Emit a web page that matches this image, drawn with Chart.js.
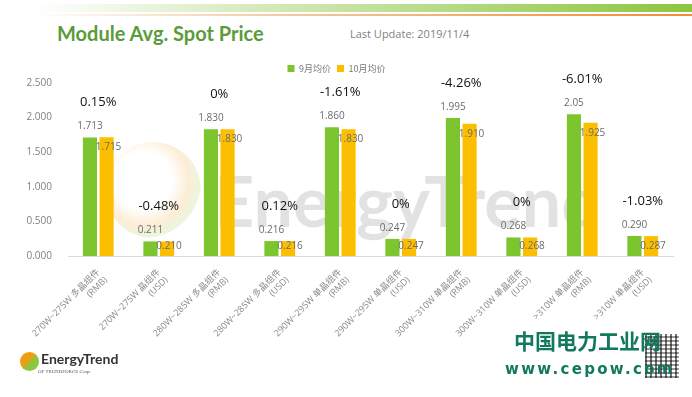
<!DOCTYPE html>
<html>
<head>
<meta charset="utf-8">
<script src="https://cdn.jsdelivr.net/npm/chart.js@4"></script>
<style>
  body { margin: 0; background: #fff; width: 692px; height: 397px; overflow: hidden; position: relative; font-family: "Open Sans", "Noto Sans CJK SC", sans-serif; }
  #band1 { position: absolute; left: 0; top: 4px; width: 692px; height: 8px; background: linear-gradient(to right, #fff 5%, #d8ebc0 35%, #8cc63f 100%); }
  #band2 { position: absolute; left: 30px; top: 14px; width: 662px; height: 2px; background: linear-gradient(to right, #fff, #f3c79a 40%, #ee8d3a 100%); }
  #title { position: absolute; left: 57px; top: 21px; font: bold 20px Lato, sans-serif; color: #5b9b3b; }
  #update { position: absolute; left: 350px; top: 26px; font: 11px "Open Sans", sans-serif; color: #7f7f7f; }
  #wm { position: absolute; left: 0; top: 0; width: 692px; height: 397px; }
  #wmCircle { position: absolute; left: 105px; top: 142px; width: 96px; height: 96px; border-radius: 50%; background: radial-gradient(circle at 40% 40%, rgba(255,255,255,0) 35%, rgba(248,190,110,0.28) 55%, rgba(190,225,150,0.3) 70%, rgba(255,255,255,0) 72%); }
  #wmText { position: absolute; left: 214px; top: 158px; font: bold 70px Lato, sans-serif; color: rgba(110,110,110,0.2); }
  #wrap { position: absolute; left: 0; top: 0; width: 692px; height: 397px; }
  #logo { position: absolute; left: 20px; top: 352px; }
  #logoIcon { position: absolute; left: 0; top: 0; width: 19px; height: 19px; border-radius: 50%; background: linear-gradient(135deg, #f39c12 40%, #8cc63f 60%); }
  #logoText { position: absolute; left: 21px; top: -2px; font: bold 14px Lato, sans-serif; color: #333; white-space: nowrap; }
  #logoSub { position: absolute; left: 18px; top: 17px; font: 5px serif; color: #555; white-space: nowrap; }
  #cn { position: absolute; left: 514px; top: 325px; font: bold 21px "Noto Sans CJK SC", sans-serif; color: #11795d; white-space: nowrap; }
  #url { position: absolute; left: 505px; top: 360px; font: bold 15px "DejaVu Sans", sans-serif; color: #11795d; letter-spacing: 2.3px; white-space: nowrap; }
  #qr { position: absolute; left: 645px; top: 334px; width: 34px; height: 44px; background:
        repeating-linear-gradient(90deg, rgba(0,0,0,0.55) 0 2px, rgba(255,255,255,0) 2px 5px),
        repeating-linear-gradient(0deg, rgba(0,0,0,0.4) 0 2px, rgba(255,255,255,0) 2px 4px); }
</style>
</head>
<body>
<div id="band1"></div>
<div id="band2"></div>
<div id="wm"><div id="wmCircle"></div><div id="wmText">EnergyTrend</div></div>
<div id="title">Module Avg. Spot Price</div>
<div id="update">Last Update: 2019/11/4</div>
<div id="wrap"><canvas id="chart"></canvas></div>
<div id="logo"><div id="logoIcon"></div><div id="logoText">EnergyTrend</div><div id="logoSub">OF TRENDFORCE Corp.</div></div>
<div id="qr"></div>
<div id="cn">中国电力工业网</div>
<div id="url">www.cepow.com</div>
<script>
// data
var categories = [
  ['270W~275W 多晶组件', '(RMB)'],
  ['270W~275W 晶组件', '(USD)'],
  ['280W~285W 多晶组件', '(RMB)'],
  ['280W~285W 多晶组件', '(USD)'],
  ['290W~295W 单晶组件', '(RMB)'],
  ['290W~295W 单晶组件', '(USD)'],
  ['300W~310W 单晶组件', '(RMB)'],
  ['300W~310W 单晶组件', '(USD)'],
  ['>310W 单晶组件', '(RMB)'],
  ['>310W 单晶组件', '(USD)']
];
var septPrice = [1.713, 0.211, 1.830, 0.216, 1.860, 0.247, 1.995, 0.268, 2.05, 0.290];
var octPrice  = [1.715, 0.210, 1.830, 0.216, 1.830, 0.247, 1.910, 0.268, 1.925, 0.287];
var septLabels = ['1.713', '0.211', '1.830', '0.216', '1.860', '0.247', '1.995', '0.268', '2.05', '0.290'];
var octLabels  = ['1.715', '0.210', '1.830', '0.216', '1.830', '0.247', '1.910', '0.268', '1.925', '0.287'];
var changes = ['0.15%', '-0.48%', '0%', '0.12%', '-1.61%', '0%', '-4.26%', '0%', '-6.01%', '-1.03%'];
var yTicks = [0, 0.5, 1, 1.5, 2, 2.5];

var green = '#7dc52e';
var yellow = '#fcbf00';

// value labels + month-on-month change above each pair
var barLabels = {
  id: 'barLabels',
  afterDatasetsDraw: function(chart) {
    var ctx = chart.ctx;
    var m0 = chart.getDatasetMeta(0), m1 = chart.getDatasetMeta(1);
    var base = chart.scales.y.getPixelForValue(0);
    ctx.save();
    ctx.textBaseline = 'middle';
    for (var i = 0; i < categories.length; i++) {
      var b0 = m0.data[i], b1 = m1.data[i];
      ctx.font = '10px "Open Sans"';
      ctx.fillStyle = '#6b6b6b';
      ctx.textAlign = 'center';
      ctx.fillText(septLabels[i], b0.x, b0.y - 11);
      ctx.fillText(octLabels[i], b1.x + 2, Math.min(b1.y + 10, base - 10));
      ctx.font = '13px "Open Sans"';
      ctx.fillStyle = '#111';
      ctx.fillText(changes[i], (b0.x + b1.x) / 2, Math.min(b0.y, b1.y) - 35);
    }
    ctx.restore();
  }
};

var ctx = document.getElementById('chart').getContext('2d');
var myChart = new Chart(ctx, {
  type: 'bar',
  data: {
    labels: categories,
    datasets: [{
      label: '9月均价',
      data: septPrice,
      backgroundColor: green,
      categoryPercentage: 0.55,
      barPercentage: 0.85
    }, {
      label: '10月均价',
      data: octPrice,
      backgroundColor: yellow,
      categoryPercentage: 0.55,
      barPercentage: 0.85
    }]
  },
  options: {
    responsive: true,
    maintainAspectRatio: false,
    animation: false,
    layout: { padding: { left: 0, right: 19, top: 58, bottom: 51 } },
    plugins: {
      legend: {
        display: true,
        labels: {
          boxWidth: 7, boxHeight: 7, padding: 6,
          font: { size: 9, family: '"Noto Sans CJK SC"' }, color: '#7a7a7a'
        }
      },
      tooltip: { enabled: false }
    },
    scales: {
      x: {
        grid: { display: false },
        border: { display: true, color: '#d9d9d9' },
        ticks: {
          minRotation: 45, maxRotation: 45, autoSkip: false,
          font: { size: 9, family: '"Open Sans", "Noto Sans CJK SC"' }, color: '#8a8a8a'
        },
        afterFit: function(scale) { scale.height = 90; }
      },
      y: {
        min: 0, max: 2.5,
        grid: { display: false },
        border: { display: false },
        afterBuildTicks: function(scale) { scale.ticks = yTicks.map(function(v) { return { value: v }; }); },
        ticks: {
          callback: function(v) { return Number(v).toFixed(3); },
          font: { size: 10, family: '"Open Sans"' }, color: '#7f7f7f', padding: 8
        },
        afterFit: function(scale) { scale.width = 68; }
      }
    }
  },
  plugins: [barLabels]
});
</script>
</body>
</html>
